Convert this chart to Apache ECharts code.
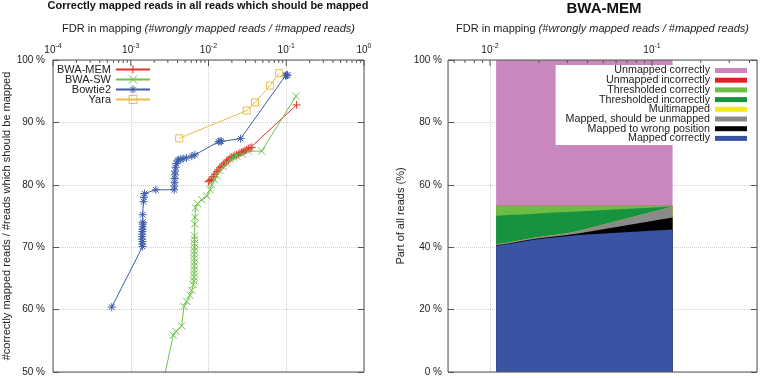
<!DOCTYPE html>
<html>
<head>
<meta charset="utf-8">
<script src="https://cdn.jsdelivr.net/npm/echarts@6/dist/echarts.min.js"></script>
<style>
  html, body { margin: 0; padding: 0; background: #fff; }
  #chart { width: 760px; height: 378px; }
</style>
</head>
<body>
<div id="chart"></div>
<script>
// left panel: [FDR, % correctly mapped of reads which should be mapped]
var bwaMem = [[0.00997, 80.5], [0.0104, 80.7], [0.0109, 80.9], [0.0115, 81.3], [0.0121, 81.7], [0.0128, 82.1],
  [0.0134, 82.4], [0.0141, 82.8], [0.0148, 83.0], [0.0155, 83.2], [0.0163, 83.5], [0.0171, 83.8], [0.018, 84.0],
  [0.0189, 84.2], [0.0198, 84.4], [0.0208, 84.5], [0.0219, 84.7], [0.023, 84.8], [0.0242, 84.9], [0.0254, 85.1],
  [0.0267, 85.2], [0.028, 85.3], [0.0295, 85.5], [0.031, 85.6], [0.0325, 85.8], [0.0342, 85.9], [0.036, 86.0],
  [0.136, 92.8]];
var bwaSw = [[0.0022, 44.0], [0.00352, 55.9], [0.00382, 56.5], [0.00452, 57.4], [0.00484, 60.5], [0.00525, 61.3],
  [0.00578, 62.3], [0.00608, 63.1], [0.0064, 64.0], [0.0065, 64.6], [0.00652, 65.2], [0.00653, 65.8], [0.00654, 66.4],
  [0.00655, 67.0], [0.00655, 67.6], [0.00656, 68.2], [0.00656, 68.8], [0.00657, 69.4], [0.00658, 70.0], [0.0066, 70.6],
  [0.0066, 71.2], [0.00662, 71.8], [0.00665, 73.7], [0.0067, 74.8], [0.0068, 76.3], [0.0072, 77.0], [0.0082, 77.6],
  [0.0095, 78.2], [0.0105, 79.2], [0.011, 80.0], [0.012, 80.8], [0.0128, 81.5], [0.014, 82.3], [0.0155, 82.9],
  [0.017, 83.5], [0.0189, 84.1], [0.021, 84.4], [0.0231, 84.6], [0.027, 84.9], [0.0325, 85.4], [0.0483, 85.4],
  [0.1334, 94.2]];
var bowtie2 = [[0.00057, 60.4], [0.00142, 70.1], [0.00141, 70.5], [0.00141, 70.9], [0.0014, 71.3], [0.0014, 71.7],
  [0.00141, 72.1], [0.00141, 72.5], [0.00142, 72.9], [0.00142, 73.3], [0.00143, 73.7], [0.00143, 74.0], [0.00142, 75.2],
  [0.00146, 77.3], [0.00148, 78.0], [0.0015, 78.6], [0.0021, 79.2], [0.00362, 79.2], [0.00364, 79.8], [0.00366, 80.4],
  [0.00368, 81.0], [0.0037, 81.6], [0.00373, 82.2], [0.00378, 82.8], [0.00386, 83.4], [0.004, 83.8], [0.0041, 84.0],
  [0.0044, 84.1], [0.0047, 84.2], [0.0052, 84.3], [0.0061, 84.6], [0.0067, 84.8], [0.0134, 86.9], [0.0141, 87.0],
  [0.0146, 86.95], [0.0259, 87.4], [0.098, 97.5], [0.101, 97.55], [0.104, 97.6]];
var yara = [[0.0042, 87.45], [0.031, 91.9], [0.0396, 93.2], [0.062, 95.9], [0.081, 97.9]];

// right panel: parts of all reads (%) for BWA-MEM, bottom of the stack first
var partFdr = [0.0109, 0.013, 0.016, 0.02, 0.025, 0.03, 0.035, 0.134];
var mappedCorrectly = [40.5, 41.0, 41.8, 42.6, 43.1, 43.5, 43.9, 45.7];
var mappedWrongPos = [0.15, 0.2, 0.25, 0.3, 0.35, 0.4, 0.5, 3.8];
var mappedShouldUnmap = [0.3, 0.3, 0.35, 0.4, 0.5, 0.6, 0.8, 3.5];
var multimapped = [0, 0, 0, 0, 0, 0, 0, 0];
var threshIncorrect = [9.15, 8.8, 8.1, 7.5, 7.15, 6.8, 6.25, 0.05];
var threshCorrect = [3.2, 3.0, 2.8, 2.5, 2.2, 2.0, 1.85, 0.25];
var unmapIncorrect = [0, 0, 0, 0, 0, 0, 0, 0];
var unmapCorrect = [46.7, 46.7, 46.7, 46.7, 46.7, 46.7, 46.7, 46.7];

var partNames = ['Mapped correctly', 'Mapped to wrong position', 'Mapped, should be unmapped', 'Multimapped',
  'Thresholded incorrectly', 'Thresholded correctly', 'Unmapped incorrectly', 'Unmapped correctly'];
var partValues = [mappedCorrectly, mappedWrongPos, mappedShouldUnmap, multimapped,
  threshIncorrect, threshCorrect, unmapIncorrect, unmapCorrect];
var partColors = ['#3a54a4', '#000000', '#8a8a8a', '#f2ea1d', '#17933f', '#6bbd45', '#e31f26', '#c887be'];

var FONT = '"Liberation Sans", Arial, sans-serif';
var INK = '#222';
var FRAME = '#555';
var GRIDC = '#cfcfcf';

var PLUS = 'path://M0,5L10,5M5,0L5,10';
var CROSS = 'path://M0,0L10,10M0,10L10,0';
var STAR = 'path://M0,5L10,5M5,0L5,10M1.5,1.5L8.5,8.5M1.5,8.5L8.5,1.5';
var SQUARE = 'path://M0,0L10,0L10,10L0,10Z';

var chart = echarts.init(document.getElementById('chart'));

function decadeLabel(v) {
  var e = Math.log10(v);
  if (Math.abs(e - Math.round(e)) > 1e-6) return '';
  return '{b|10}{s|' + Math.round(e) + '}';
}

// top axis ticks: long at decades, short at 2..9
function topTicks(lo, hi) {
  var out = [];
  for (var e = -5; e <= 0; e++) {
    for (var m = 1; m <= 9; m++) {
      var v = m * Math.pow(10, e);
      if (v >= lo * 0.999 && v <= hi * 1.001) out.push([v, m === 1 ? 6 : 3]);
    }
  }
  return out;
}

function tickItem(params, api) {
  var p = api.coord([api.value(0), 100]);
  return {
    type: 'line',
    shape: { x1: p[0], y1: p[1], x2: p[0], y2: p[1] + api.value(1) },
    style: { stroke: FRAME, lineWidth: 1 }
  };
}

var fdrName = '{a|FDR in mapping }{i|(#wrongly mapped reads / #mapped reads)}';
var nameStyle = {
  color: INK, fontFamily: FONT, fontSize: 11,
  rich: {
    a: { color: INK, fontFamily: FONT, fontSize: 11 },
    i: { color: INK, fontFamily: FONT, fontSize: 11, fontStyle: 'italic' }
  }
};
var decadeRich = {
  b: { color: INK, fontFamily: FONT, fontSize: 10, lineHeight: 15 },
  s: { color: INK, fontFamily: FONT, fontSize: 7, verticalAlign: 'top' }
};

function xAxisFor(grid, lo, hi) {
  return {
    type: 'log', logBase: 10, gridIndex: grid, position: 'top', min: lo, max: hi,
    name: fdrName, nameLocation: 'middle', nameGap: 26, nameTextStyle: nameStyle,
    axisLine: { show: false }, axisTick: { show: false },
    axisLabel: { formatter: decadeLabel, margin: 2, rich: decadeRich },
    splitLine: { show: true, lineStyle: { color: GRIDC, type: 'dotted', width: 1 } }
  };
}

function yAxisFor(grid, lo, hi, step, name, gap, margin) {
  return {
    type: 'value', gridIndex: grid, position: 'left', min: lo, max: hi, interval: step,
    name: name, nameLocation: 'middle', nameGap: gap,
    nameTextStyle: { color: INK, fontFamily: FONT, fontSize: 11 },
    axisLine: { show: false },
    axisTick: { show: true, inside: true, length: 6, lineStyle: { color: FRAME } },
    axisLabel: { formatter: '{value} %', margin: margin, color: INK, fontFamily: FONT, fontSize: 10 },
    splitLine: { show: true, lineStyle: { color: GRIDC, type: 'dotted', width: 1 } }
  };
}

function mirrorY(grid, lo, hi, step) {
  return {
    type: 'value', gridIndex: grid, position: 'right', min: lo, max: hi, interval: step,
    axisLine: { show: false }, axisLabel: { show: false }, splitLine: { show: false },
    axisTick: { show: true, inside: true, length: 6, lineStyle: { color: FRAME } }
  };
}

function toolLine(name, data, color, symbol, size) {
  return {
    name: name, type: 'line', xAxisIndex: 0, yAxisIndex: 0, data: data,
    symbol: symbol, symbolSize: size, showAllSymbol: true,
    lineStyle: { color: color, width: 1 },
    itemStyle: { color: 'none', borderColor: color, borderWidth: 1 },
    emphasis: { disabled: true }
  };
}

var series = [
  toolLine('BWA-MEM', bwaMem, '#e4322b', PLUS, 8),
  toolLine('BWA-SW', bwaSw, '#6cc24a', CROSS, 7),
  toolLine('Bowtie2', bowtie2, '#3f5ea8', STAR, 8),
  toolLine('Yara', yara, '#ecbd4a', SQUARE, 7)
];

// running tops of the stack; each layer is filled down to 0 and the lower
// layers are painted over it afterwards
var tops = [];
partValues.forEach(function (vals, k) {
  tops.push(vals.map(function (v, i) { return (k ? tops[k - 1][i] : 0) + v; }));
});
for (var k = partNames.length - 1; k >= 0; k--) {
  series.push({
    name: partNames[k], type: 'line', xAxisIndex: 1, yAxisIndex: 2,
    data: partFdr.map(function (f, i) { return [f, tops[k][i]]; }),
    symbol: 'none', lineStyle: { width: 0 },
    itemStyle: { color: partColors[k] },
    areaStyle: { color: partColors[k], opacity: 1, origin: 'start' },
    emphasis: { disabled: true }
  });
}

series.push({
  type: 'custom', xAxisIndex: 0, yAxisIndex: 0, clip: false, z: 6, silent: true,
  data: topTicks(1e-4, 1), renderItem: tickItem
});
series.push({
  type: 'custom', xAxisIndex: 1, yAxisIndex: 2, clip: false, z: 6, silent: true,
  data: topTicks(0.0055, 0.445), renderItem: tickItem
});

var option = {
  animation: false,
  backgroundColor: '#fff',
  title: [
    { text: 'Correctly mapped reads in all reads which should be mapped', left: 208, top: 0, padding: 0,
      textAlign: 'center', textStyle: { color: '#111', fontFamily: FONT, fontSize: 11, fontWeight: 'bold' } },
    { text: 'BWA-MEM', left: 604, top: 1, padding: 0, textAlign: 'center',
      textStyle: { color: '#111', fontFamily: FONT, fontSize: 15, fontWeight: 'bold' } }
  ],
  legend: [
    { data: ['BWA-MEM', 'BWA-SW', 'Bowtie2', 'Yara'], orient: 'vertical', align: 'right',
      right: 609, top: 63, padding: 0, itemGap: -3, itemWidth: 34, itemHeight: 10,
      itemStyle: { borderWidth: 1 }, selectedMode: false,
      textStyle: { color: INK, fontFamily: FONT, fontSize: 11, lineHeight: 10 } },
    { data: partNames.slice().reverse(), orient: 'vertical', align: 'right', icon: 'rect',
      right: 3, top: 65, padding: [0, 10, 1, 10], backgroundColor: '#fff',
      itemGap: -1.3, itemWidth: 32, itemHeight: 5, selectedMode: false,
      textStyle: { color: INK, fontFamily: FONT, fontSize: 10.7, lineHeight: 9.7 } }
  ],
  grid: [
    { left: 53, top: 60, width: 311, height: 312, show: true, z: 5, backgroundColor: 'transparent',
      borderColor: FRAME, borderWidth: 1, outerBoundsMode: 'none' },
    { left: 448, top: 60, width: 309, height: 312, show: true, z: 5, backgroundColor: 'transparent',
      borderColor: FRAME, borderWidth: 1, outerBoundsMode: 'none' }
  ],
  xAxis: [xAxisFor(0, 1e-4, 1), xAxisFor(1, 0.0055, 0.445)],
  yAxis: [
    yAxisFor(0, 50, 100, 10, '#correctly mapped reads / #reads which should be mapped', 39, 8),
    mirrorY(0, 50, 100, 10),
    yAxisFor(1, 0, 100, 20, 'Part of all reads (%)', 42, 6),
    mirrorY(1, 0, 100, 20)
  ],
  series: series
};

chart.setOption(option);
</script>
</body>
</html>
